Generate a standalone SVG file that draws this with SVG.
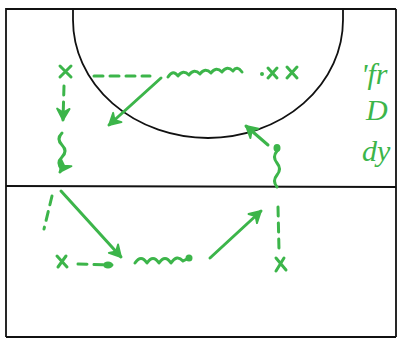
<svg xmlns="http://www.w3.org/2000/svg" width="397" height="340" viewBox="0 0 397 340">
  <defs>
    <marker id="ah" viewBox="0 0 12 12" refX="10" refY="6" markerWidth="5" markerHeight="5" orient="auto" markerUnits="strokeWidth">
      <path d="M1,1 L10,6 L1,11 L4,6 Z" fill="#3cb54a" stroke="#3cb54a" stroke-width="1.5" stroke-linejoin="round"/>
    </marker>
    <style>
      .court{fill:none;stroke:#111;stroke-width:1.8}
      .g{fill:none;stroke:#3cb54a;stroke-width:3;stroke-linecap:round;stroke-linejoin:round}
      .d{stroke-dasharray:9 7}
      .blob{fill:#3cb54a}
      .txt{font-family:"Liberation Serif",serif;font-style:italic;font-size:30px;fill:#3cb54a}
    </style>
  </defs>
  <rect width="397" height="340" fill="#fff"/>
  <g id="court">
    <path class="court" d="M6,337 L6,9 L396,9 M396,9 L396,337 M6,337 L396,337"/>
    <path class="court" d="M6,186 L396,187"/>
    <path class="court" d="M73,8 L73,20 A135,118 0 0 0 343,20 L343,8"/>
  </g>
  <g id="players">
    <g id="x1"><path class="g" d="M60,66 L71,77 M71,66 L60,77"/></g>
    <g id="x2"><path class="g" d="M57,256 L67,267 M66,256 L58,267"/></g>
    <g id="x3"><path class="g" d="M276,258 L286,270 M284,258 L276,271"/></g>
    <g id="x4"><path class="g" d="M268,68 L277,78 M277,68 L268,78"/></g>
    <g id="x5"><path class="g" d="M287,67 L297,78 M297,67 L287,78"/></g>
  </g>
  <g id="connectors">
    <path class="g d" d="M64,86 L63,120" marker-end="url(#ah)"/>
    <path class="g" d="M62,133 q-6,6 0,12 q6,6 0,12 q-6,6 0,12 l-2,3" marker-end="url(#ah)"/>
    <path class="g d" d="M52,196 L44,229"/>
    <path class="g" d="M61,191 L121,257" marker-end="url(#ah)"/>
    <path class="g d" d="M78,264 L112,265"/>
    <ellipse class="blob" cx="108" cy="265" rx="5" ry="3.5"/>
    <path class="g" d="M135,263 q6,-9 12,0 q6,-9 12,0 q6,-9 12,0 q6,-9 12,-2 l6,-3"/>
    <ellipse class="blob" cx="189" cy="258" rx="3.5" ry="3.5"/>
    <path class="g" d="M210,258 L261,211" marker-end="url(#ah)"/>
    <path class="g d" d="M278,207 L279,250"/>
    <path class="g" d="M277,187 q-5,-6 0,-12 q5,-6 0,-12 q-5,-6 0,-12 l0,-2"/>
    <ellipse class="blob" cx="277" cy="148" rx="3.5" ry="4"/>
    <path class="g" d="M268,145 L246,126" marker-end="url(#ah)"/>
    <path class="g d" d="M94,76 L150,76"/>
    <path class="g" d="M168,77 q5,-8 10,-1 q5,-7 11,-1 q5,-7 11,-1 q5,-7 11,-1 q5,-7 11,-1 q5,-7 11,-1 q4,-6 9,1"/>
    <circle class="blob" cx="262" cy="74" r="2"/>
    <path class="g" d="M161,78 L109,125" marker-end="url(#ah)"/>
  </g>
  <g id="notes">
    <text class="txt" x="361" y="84">'fr</text>
    <text class="txt" x="366" y="120">D</text>
    <text class="txt" x="362" y="161">dy</text>
  </g>
</svg>
